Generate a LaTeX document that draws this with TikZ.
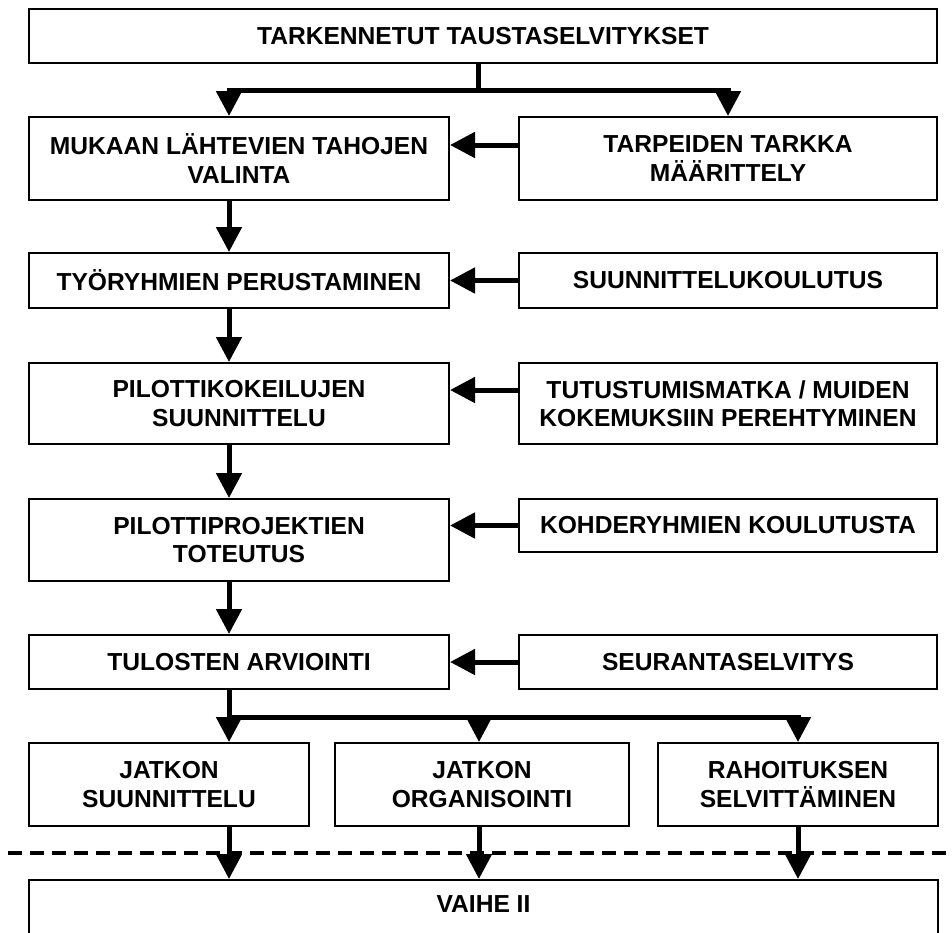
\documentclass[tikz,border=0pt]{standalone}
\usepackage{fontspec}
\setmainfont{Liberation Sans}
\usetikzlibrary{arrows.meta}

\begin{document}
\begin{tikzpicture}[x=0.5pt,y=-0.5pt,
	box/.style={draw,line width=1pt,align=center,inner sep=0pt,font=\bfseries\fontsize{12.3}{14.3}\selectfont},
	colL/.style={minimum width=210pt},
	colR/.style={minimum width=209pt},
	colS/.style={minimum width=140pt},
	tall/.style={minimum height=41.5pt},
	low/.style={minimum height=27pt},
	arr/.style={line width=2.5pt,-{Triangle[length=12.5pt,width=12.5pt]}},
	bar/.style={line width=2.5pt}]
	\clip (0,0) rectangle (952,932);
	\node[box,minimum width=454pt,low] (tausta) at (483,36) {TARKENNETUT TAUSTASELVITYKSET};
	\node[box,colL,tall] (valinta) at (239,158.5) {MUKAAN LÄHTEVIEN TAHOJEN\\VALINTA};
	\node[box,colR,tall] (tarpeet) at (728,158.5) {TARPEIDEN TARKKA\\MÄÄRITTELY};
	\node[box,colL,minimum height=27.5pt] (perustaminen) at (239,280.5) {TYÖRYHMIEN PERUSTAMINEN};
	\node[box,colR,minimum height=27.5pt] (koulutus) at (728,280.5) {SUUNNITTELUKOULUTUS};
	\node[box,colL,minimum height=40.5pt] (suunnittelu) at (239,403.5) {PILOTTIKOKEILUJEN\\SUUNNITTELU};
	\node[box,colR,minimum height=40.5pt] (matka) at (728,403.5) {TUTUSTUMISMATKA / MUIDEN\\KOKEMUKSIIN PEREHTYMINEN};
	\node[box,colL,minimum height=41pt] (toteutus) at (239,540) {PILOTTIPROJEKTIEN\\TOTEUTUS};
	\node[box,colR,minimum height=26.5pt] (kohde) at (728,525.5) {KOHDERYHMIEN KOULUTUSTA};
	\node[box,colL,low] (arviointi) at (239,662) {TULOSTEN ARVIOINTI};
	\node[box,colR,low] (seuranta) at (728,662) {SEURANTASELVITYS};
	\node[box,colS,tall] (jatko) at (169,784.5) {JATKON\\SUUNNITTELU};
	\node[box,minimum width=147pt,tall] (organisointi) at (482,784.5) {JATKON\\ORGANISOINTI};
	\node[box,colS,tall] (rahoitus) at (798,784.5) {RAHOITUKSEN\\SELVITTÄMINEN};
	\node[box,minimum width=454.5pt,minimum height=30pt,text height=8.8pt,text depth=6.7pt] (vaihe) at (483.5,910) {VAIHE II};

	\coordinate (runko) at (229,0);
	\coordinate (haara) at (478,90);
	\coordinate (haara2) at (229,717);
	\draw[bar] (tausta.south -| haara) -- (haara);
	\draw[arr] (haara) -| (valinta.north -| runko);
	\draw[arr] (haara) -| (tarpeet.north);
	\draw[arr] (tarpeet.west |- 0,145) -- (valinta.east |- 0,145);
	\draw[arr] (valinta.south -| runko) -- (perustaminen.north -| runko);
	\draw[arr] (koulutus.west) -- (perustaminen.east);
	\draw[arr] (perustaminen.south -| runko) -- (suunnittelu.north -| runko);
	\draw[arr] (matka.west |- 0,390) -- (suunnittelu.east |- 0,390);
	\draw[arr] (suunnittelu.south -| runko) -- (toteutus.north -| runko);
	\draw[arr] (kohde.west) -- (toteutus.east |- kohde.west);
	\draw[arr] (toteutus.south -| runko) -- (arviointi.north -| runko);
	\draw[arr] (seuranta.west) -- (arviointi.east);
	\draw[arr] (arviointi.south -| runko) -- (jatko.north -| runko);
	\draw[arr] (haara2) -| (organisointi.north -| 479,0);
	\draw[arr] (haara2) -| (rahoitus.north);
	\draw[arr] (jatko.south -| runko) -- (vaihe.north -| runko);
	\draw[arr] (organisointi.south -| 479,0) -- (vaihe.north -| 479,0);
	\draw[arr] (rahoitus.south) -- (vaihe.north -| rahoitus.south);
	%\draw[arr] (haara2) -- (jatko.north -| runko);
	\draw[line width=2pt,dash pattern=on 7pt off 4pt] (8,853) -- (952,853);
\end{tikzpicture}
\end{document}
